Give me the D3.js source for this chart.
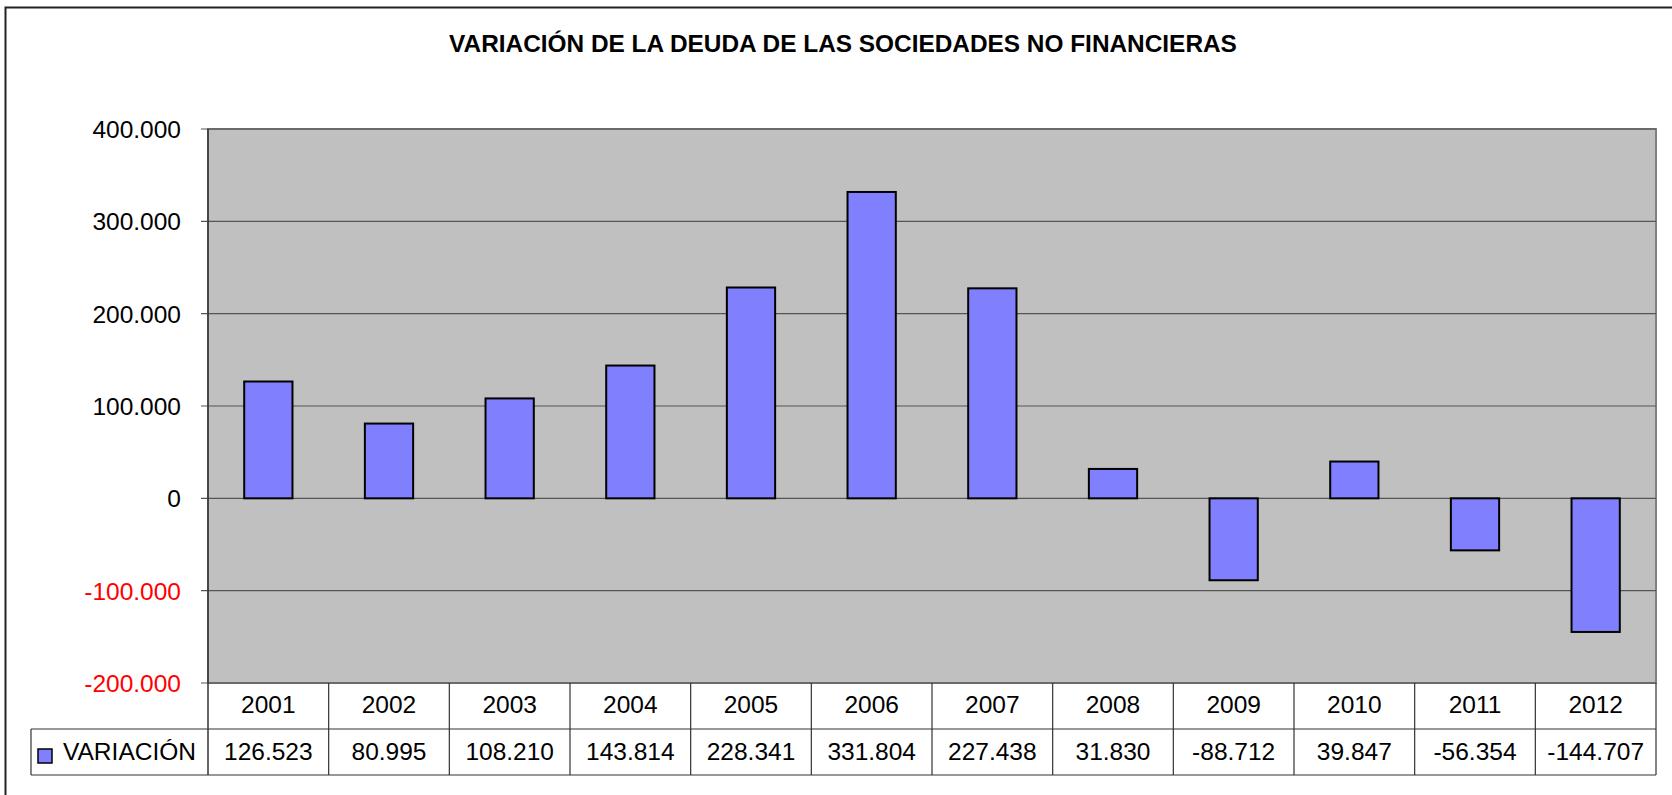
<!DOCTYPE html>
<html>
<head>
<meta charset="utf-8">
<script src="https://cdn.jsdelivr.net/npm/d3@7"></script>
<style>
  html, body { margin: 0; padding: 0; background: #fff; }
  svg { display: block; font-family: "Liberation Sans", Arial, sans-serif; }
</style>
</head>
<body>
<div id="chart"></div>
<script>
var years = ["2001", "2002", "2003", "2004", "2005", "2006", "2007", "2008", "2009", "2010", "2011", "2012"];
var variacion = [126523, 80995, 108210, 143814, 228341, 331804, 227438, 31830, -88712, 39847, -56354, -144707];
var yTicks = [-200000, -100000, 0, 100000, 200000, 300000, 400000];
var seriesName = "VARIACIÓN";
var title = "VARIACIÓN DE LA DEUDA DE LAS SOCIEDADES NO FINANCIERAS";

var width = 1672;
var height = 795;
var plot = { left: 208, right: 1656, top: 129, bottom: 683 };
var rowH = 46;
var fontSize = 24.5;

var locale = d3.formatLocale({ decimal: ",", thousands: ".", grouping: [3], currency: ["", ""], minus: "-" });
var fmt = locale.format(",d");

var svg = d3
  .select("#chart")
  .append("svg")
  .attr("width", width)
  .attr("height", height);

// outer chart border
svg.append("rect")
  .attr("x", 5.5).attr("y", 7.5)
  .attr("width", width + 20).attr("height", height + 20)
  .attr("fill", "#fff")
  .attr("stroke", "#222")
  .attr("stroke-width", 2);

svg.append("text")
  .attr("x", 843).attr("y", 52)
  .attr("text-anchor", "middle")
  .attr("font-size", 24.4)
  .attr("font-weight", "bold")
  .text(title);

var x = d3.scaleBand()
  .domain(years)
  .range([plot.left, plot.right])
  .paddingInner(0.6)
  .paddingOuter(0.3);

var xCell = d3.scaleBand()
  .domain(years)
  .range([plot.left, plot.right]);

var y = d3.scaleLinear()
  .domain([-200000, 400000])
  .range([plot.bottom, plot.top]);

// plot background
svg.append("rect")
  .attr("x", plot.left).attr("y", plot.top)
  .attr("width", plot.right - plot.left)
  .attr("height", plot.bottom - plot.top)
  .attr("fill", "#c0c0c0")
  .attr("stroke", "#808080")
  .attr("stroke-width", 2);

// gridlines
svg.append("g")
  .selectAll("line")
  .data(yTicks)
  .enter()
  .append("line")
  .attr("x1", plot.left - 7)
  .attr("x2", plot.right)
  .attr("y1", function (d) { return y(d); })
  .attr("y2", function (d) { return y(d); })
  .attr("stroke", "#555")
  .attr("stroke-width", 1.2);

// y axis line
svg.append("line")
  .attr("x1", plot.left).attr("x2", plot.left)
  .attr("y1", plot.top).attr("y2", plot.bottom + 2 * rowH)
  .attr("stroke", "#333")
  .attr("stroke-width", 1.5);

// y labels
svg.append("g")
  .selectAll("text")
  .data(yTicks)
  .enter()
  .append("text")
  .attr("x", 181)
  .attr("y", function (d) { return y(d) + 9; })
  .attr("text-anchor", "end")
  .attr("font-size", fontSize)
  .attr("fill", function (d) { return d < 0 ? "#ff0000" : "#000"; })
  .text(function (d) { return fmt(d); });

// bars
svg.append("g")
  .selectAll("rect")
  .data(variacion)
  .enter()
  .append("rect")
  .attr("x", function (d, i) { return x(years[i]); })
  .attr("y", function (d) { return y(Math.max(0, d)); })
  .attr("width", x.bandwidth())
  .attr("height", function (d) { return Math.abs(y(d) - y(0)); })
  .attr("fill", "#8080ff")
  .attr("stroke", "#000")
  .attr("stroke-width", 2);

// data table
var table = svg.append("g")
  .attr("stroke", "#333")
  .attr("stroke-width", 1.2);

table.append("line")
  .attr("x1", 31).attr("x2", plot.right)
  .attr("y1", plot.bottom + rowH).attr("y2", plot.bottom + rowH);
table.append("line")
  .attr("x1", 31).attr("x2", plot.right)
  .attr("y1", plot.bottom + 2 * rowH).attr("y2", plot.bottom + 2 * rowH);
table.append("line")
  .attr("x1", 31).attr("x2", 31)
  .attr("y1", plot.bottom + rowH).attr("y2", plot.bottom + 2 * rowH);

table.selectAll(".col")
  .data(years)
  .enter()
  .append("line")
  .attr("class", "col")
  .attr("x1", function (d) { return xCell(d) + xCell.bandwidth(); })
  .attr("x2", function (d) { return xCell(d) + xCell.bandwidth(); })
  .attr("y1", plot.bottom)
  .attr("y2", plot.bottom + 2 * rowH);

svg.append("g")
  .selectAll("text")
  .data(years)
  .enter()
  .append("text")
  .attr("x", function (d) { return xCell(d) + xCell.bandwidth() / 2; })
  .attr("y", plot.bottom + 30)
  .attr("text-anchor", "middle")
  .attr("font-size", fontSize)
  .text(function (d) { return d; });

svg.append("g")
  .selectAll("text")
  .data(variacion)
  .enter()
  .append("text")
  .attr("x", function (d, i) { return xCell(years[i]) + xCell.bandwidth() / 2; })
  .attr("y", plot.bottom + rowH + 31)
  .attr("text-anchor", "middle")
  .attr("font-size", fontSize)
  .text(function (d) { return fmt(d); });

// legend key
svg.append("rect")
  .attr("x", 38).attr("y", 749)
  .attr("width", 14).attr("height", 14)
  .attr("fill", "#8080ff")
  .attr("stroke", "#000")
  .attr("stroke-width", 1.5);

svg.append("text")
  .attr("x", 63).attr("y", plot.bottom + rowH + 31)
  .attr("font-size", fontSize)
  .attr("textLength", 133)
  .attr("lengthAdjust", "spacingAndGlyphs")
  .text(seriesName);
</script>
</body>
</html>
